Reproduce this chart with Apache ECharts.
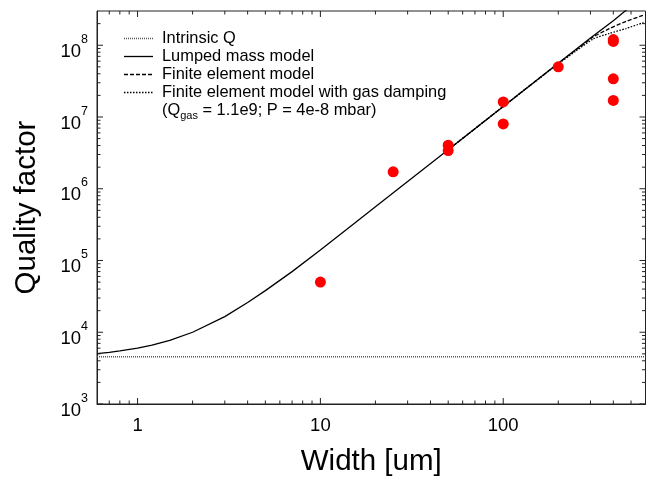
<!DOCTYPE html>
<html><head><meta charset="utf-8">
<script src="https://cdn.jsdelivr.net/npm/echarts@6/dist/echarts.min.js"></script>
<style>html,body{margin:0;padding:0;background:#fff}#c{width:650px;height:477px}</style>
</head><body><div id="c"></div>
<script>
// ---- data ----
const xRange = [0.6, 600];
const yRange = [1e3, 3e8];

const intrinsicX = [0.6, 600];
const intrinsicQ = [4560, 4560];

const lumpedX = [0.6, 0.7, 0.8, 1, 1.2, 1.5, 2, 3, 4, 5, 7, 10, 15, 20, 50, 100, 200, 300, 400, 500, 600];
const lumpedQ = [5.05e3, 5.25e3, 5.5e3, 6.0e3, 6.6e3, 7.7e3, 1.0e4, 1.65e4, 2.6e4, 3.8e4, 7.0e4, 1.4e5, 3.15e5, 5.6e5, 3.5e6, 1.4e7, 5.6e7, 1.26e8, 2.2e8, 3.5e8, 5.0e8];

const feX = [50, 100, 200, 250, 310, 380, 470, 580, 600];
const feQ = [3.5e6, 1.4e7, 5.6e7, 8.6e7, 1.3e8, 1.7e8, 2.15e8, 2.6e8, 2.65e8];

const gasX = [50, 100, 200, 250, 310, 380, 470, 580, 600];
const gasQ = [3.5e6, 1.4e7, 5.5e7, 8.3e7, 1.22e8, 1.46e8, 1.71e8, 2.05e8, 2.1e8];

const measX = [10, 25, 50, 50, 100, 100, 200, 400, 400, 400, 400];
const measQ = [5.0e4, 1.72e6, 4.05e6, 3.4e6, 1.62e7, 8.0e6, 5.0e7, 1.2e8, 1.13e8, 3.4e7, 1.7e7];

const xMajorTicks = [1, 10, 100];
const xMinorTicks = [0.7, 0.8, 0.9, 2, 3, 4, 5, 6, 7, 8, 9, 20, 30, 40, 50, 60, 70, 80, 90, 200, 300, 400, 500];
const yMajorTicks = [1e3, 1e4, 1e5, 1e6, 1e7, 1e8];
const yMinorTicks = [2e3,3e3,4e3,5e3,6e3,7e3,8e3,9e3, 2e4,3e4,4e4,5e4,6e4,7e4,8e4,9e4,
  2e5,3e5,4e5,5e5,6e5,7e5,8e5,9e5, 2e6,3e6,4e6,5e6,6e6,7e6,8e6,9e6,
  2e7,3e7,4e7,5e7,6e7,7e7,8e7,9e7, 2e8];

const legendLabels = ['Intrinsic Q', 'Lumped mass model', 'Finite element model', 'Finite element model with gas damping'];
const legendNote = '{m|(Q}{sub|gas}{m| = 1.1e9; P = 4e-8 mbar)}';

// ---- styles ----
const FONT = '"Liberation Sans", Arial, Helvetica, sans-serif';
const styles = [
  {color: '#555', width: 1.5, type: [1, 1]},
  {color: '#000', width: 1.3, type: 'solid'},
  {color: '#000', width: 1.3, type: [4, 2]},
  {color: '#000', width: 1.3, type: [1.5, 1.5]}
];

const zip = (a, b) => a.map((v, i) => [v, b[i]]);

function isPow10(v) {
  const l = Math.log10(v);
  return Math.abs(l - Math.round(l)) < 1e-6;
}

const chart = echarts.init(document.getElementById('c'));

const legendGraphics = [];
legendLabels.forEach((t, i) => {
  const y = 38.5 + 18 * i;
  const s = styles[i];
  legendGraphics.push({type: 'line', z: 10, shape: {x1: 124, y1: y, x2: 153, y2: y},
    style: {stroke: s.color, lineWidth: s.width, lineDash: s.type === 'solid' ? null : s.type}});
  legendGraphics.push({type: 'text', z: 10, x: 162, y: y,
    style: {text: t, font: '16.4px ' + FONT, fill: '#000', verticalAlign: 'middle', textVerticalAlign: 'middle'}});
});
legendGraphics.push({type: 'text', z: 10, x: 162, y: 110,
  style: {text: legendNote, verticalAlign: 'middle', textVerticalAlign: 'middle', fill: '#000',
    rich: {
      m: {fontSize: 16.4, fontFamily: FONT, lineHeight: 19, verticalAlign: 'middle', fill: '#000'},
      sub: {fontSize: 11, fontFamily: FONT, lineHeight: 12, padding: [12, 0, 0, 0], verticalAlign: 'middle', fill: '#000'}
    }}});

const option = {
  animation: false,
  grid: {left: 97, right: 4.5, top: 11, bottom: 73, outerBoundsMode: 'none', show: true, borderColor: '#222', borderWidth: 1},
  xAxis: {
    type: 'log', logBase: 10, min: xRange[0], max: xRange[1],
    name: 'Width [um]', nameLocation: 'middle', nameGap: 43,
    nameTextStyle: {fontSize: 29.5, color: '#000', fontFamily: FONT},
    axisLine: {show: true, lineStyle: {color: '#222', width: 1}},
    axisTick: {show: false}, splitLine: {show: false},
    axisLabel: {fontSize: 18.5, color: '#000', margin: 12, fontFamily: FONT,
      formatter: v => isPow10(v) ? String(Math.round(v)) : ''}
  },
  yAxis: {
    type: 'log', logBase: 10, min: yRange[0], max: yRange[1],
    name: 'Quality factor', nameLocation: 'middle', nameGap: 55,
    nameTextStyle: {fontSize: 29.5, color: '#000', fontFamily: FONT},
    axisLine: {show: true, lineStyle: {color: '#222', width: 1}},
    axisTick: {show: false}, splitLine: {show: false},
    axisLabel: {color: '#000', margin: 9, fontFamily: FONT,
      formatter: v => isPow10(v) ? '{b|10}{s|' + Math.round(Math.log10(v)) + '}' : '',
      rich: {
        b: {fontSize: 18.5, fontFamily: FONT, lineHeight: 20, padding: [13, 0, 0, 0], verticalAlign: 'middle', color: '#000'},
        s: {fontSize: 12.5, fontFamily: FONT, lineHeight: 13, padding: [0, 0, 11.4, 0], verticalAlign: 'middle', color: '#000'}
      }}
  },
  series: [
    {type: 'line', name: legendLabels[0], data: zip(intrinsicX, intrinsicQ), showSymbol: false, symbol: 'none',
     lineStyle: styles[0], z: 2},
    {type: 'line', name: legendLabels[1], data: zip(lumpedX, lumpedQ), showSymbol: false, symbol: 'none',
     lineStyle: styles[1], z: 3},
    {type: 'line', name: legendLabels[2], data: zip(feX, feQ), showSymbol: false, symbol: 'none',
     smooth: 0.2, lineStyle: styles[2], z: 3},
    {type: 'line', name: legendLabels[3], data: zip(gasX, gasQ), showSymbol: false, symbol: 'none',
     smooth: 0.2, lineStyle: styles[3], z: 3},
    {type: 'scatter', name: 'Measured', data: zip(measX, measQ), symbol: 'circle', symbolSize: 11,
     itemStyle: {color: '#ff0000', opacity: 1}, z: 4}
  ]
};
chart.setOption(option);

// ---- inward ticks on all four sides, placed through the chart's own scales ----
const tickGraphics = [];
const px = (x, y) => chart.convertToPixel({gridIndex: 0}, [x, y]);
const tickStyle = {stroke: '#222', lineWidth: 1};
function addXTick(v, len) {
  const b = px(v, yRange[0]), t = px(v, yRange[1]);
  tickGraphics.push({type: 'line', z: 6, silent: true, shape: {x1: b[0], y1: b[1], x2: b[0], y2: b[1] - len}, style: tickStyle});
  tickGraphics.push({type: 'line', z: 6, silent: true, shape: {x1: t[0], y1: t[1], x2: t[0], y2: t[1] + len}, style: tickStyle});
}
function addYTick(v, len) {
  const l = px(xRange[0], v), r = px(xRange[1], v);
  tickGraphics.push({type: 'line', z: 6, silent: true, shape: {x1: l[0], y1: l[1], x2: l[0] + len, y2: l[1]}, style: tickStyle});
  tickGraphics.push({type: 'line', z: 6, silent: true, shape: {x1: r[0], y1: r[1], x2: r[0] - len, y2: r[1]}, style: tickStyle});
}
xMajorTicks.forEach(v => addXTick(v, 6));
xMinorTicks.forEach(v => addXTick(v, 3.5));
yMajorTicks.forEach(v => addYTick(v, 6));
yMinorTicks.forEach(v => addYTick(v, 3.5));
chart.setOption({graphic: tickGraphics.concat(legendGraphics)});
</script>
</body></html>
